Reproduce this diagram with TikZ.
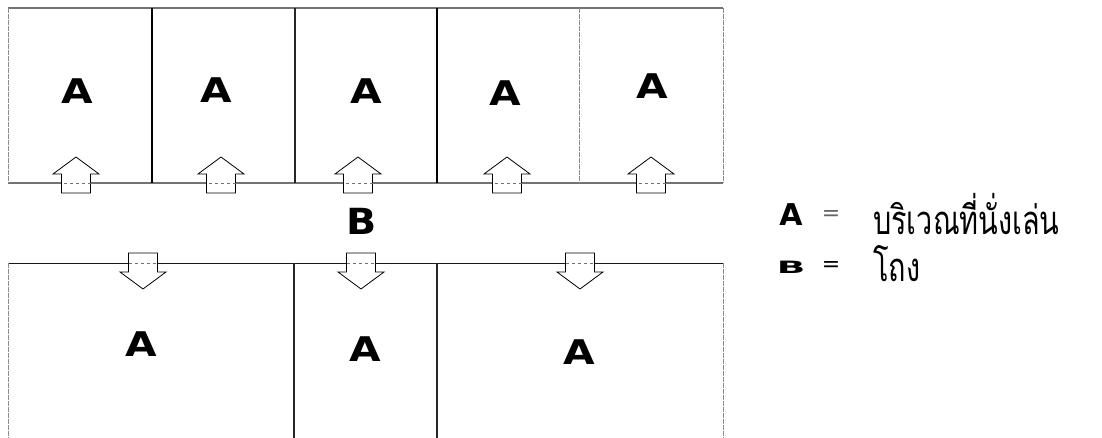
\documentclass[tikz,border=0pt]{standalone}
\usepackage{fontspec}
\usepackage{graphicx}
\setmainfont{DejaVu Sans}
\newfontfamily\thaifont[Script=Thai]{Loma}
\newcommand{\zonefont}{\fontsize{34}{34}\selectfont\bfseries}
\newcommand{\widen}[2][1.2]{\scalebox{#1}[1]{#2}}
\tikzset{
  hline/.style     = {line width=1.2pt, black!55},
  wall/.style      = {line width=1.3pt, black!85},
  heavywall/.style = {line width=2pt, black},
  dotwall/.style   = {line width=0.7pt, black!45, dash pattern=on 5pt off 1pt},
  entryline/.style = {line width=0.8pt, black, fill=white},
  zone/.style      = {font=\zonefont, inner sep=0pt},
  legkey/.style    = {font=\bfseries, inner sep=0pt},
  legeq/.style     = {font=\fontsize{22}{22}\selectfont, inner sep=0pt},
  legtext/.style   = {font=\thaifont\fontsize{40}{40}\selectfont, inner sep=0pt, anchor=west},
  entry/.pic       = {
    \draw[entryline] (-14.5,-10) -- (14.5,-10) -- (14.5,9) -- (23,9)
      -- (0,26) -- (-23,9) -- (-14.5,9) -- cycle;
    \draw[black!55, dashed, line width=0.6pt] (-14.5,0) -- (14.5,0);
  },
}

\begin{document}
\begin{tikzpicture}[x=1pt,y=-1pt]
\useasboundingbox (0,0) rectangle (1102,438);
\draw[hline] (8,8) -- (723,8);
\draw[hline] (8,183) -- (723,183);
\draw[hline, black!90, line width=0.9pt] (8,263) -- (723,263);
\foreach \x/\s in {8/dotwall, 152/heavywall, 295/wall, 437/heavywall, 579/dotwall, 723/dotwall}
  \draw[\s] (\x,8) -- (\x,183);
\foreach \x/\s in {8/dotwall, 294/wall, 437/wall, 723/dotwall}
  \draw[\s] (\x,263) -- (\x,438);
\foreach \x in {76,221,358,507,651}
  \pic[rotate=180] at (\x,183) {entry};
\foreach \x in {143,361,580}
  \pic at (\x,263) {entry};
\foreach \x/\y [count=\i] in {77/91, 216/90, 366/91, 505/93, 652/86}
  \node[zone] (upper\i) at (\x,\y) {\widen{A}};
\foreach \x/\y [count=\i] in {141/344, 365/349, 579/352}
  \node[zone] (lower\i) at (\x,\y) {\widen{A}};
\node[zone, font=\fontsize{36}{36}\selectfont\bfseries] (hall) at (362,221) {\widen[1.1]{B}};
\node[legkey, font=\fontsize{30}{30}\selectfont\bfseries] (keyA) at (791,215) {\widen[1]{A}};
\node[legeq, black!60] (eqA) at (831,216) {=};
\node[legtext] (textA) at (873,214) {\widen[0.72]{บริเวณที่นั่งเล่น}};
\node[legkey, font=\fontsize{17}{17}\selectfont\bfseries] (keyB) at (791,267) {\widen[2.2]{B}};
\node[legeq] (eqB) at (831,267) {=};
\node[legtext] (textB) at (873,264) {\widen[0.72]{โถง}};
\end{tikzpicture}
\end{document}
